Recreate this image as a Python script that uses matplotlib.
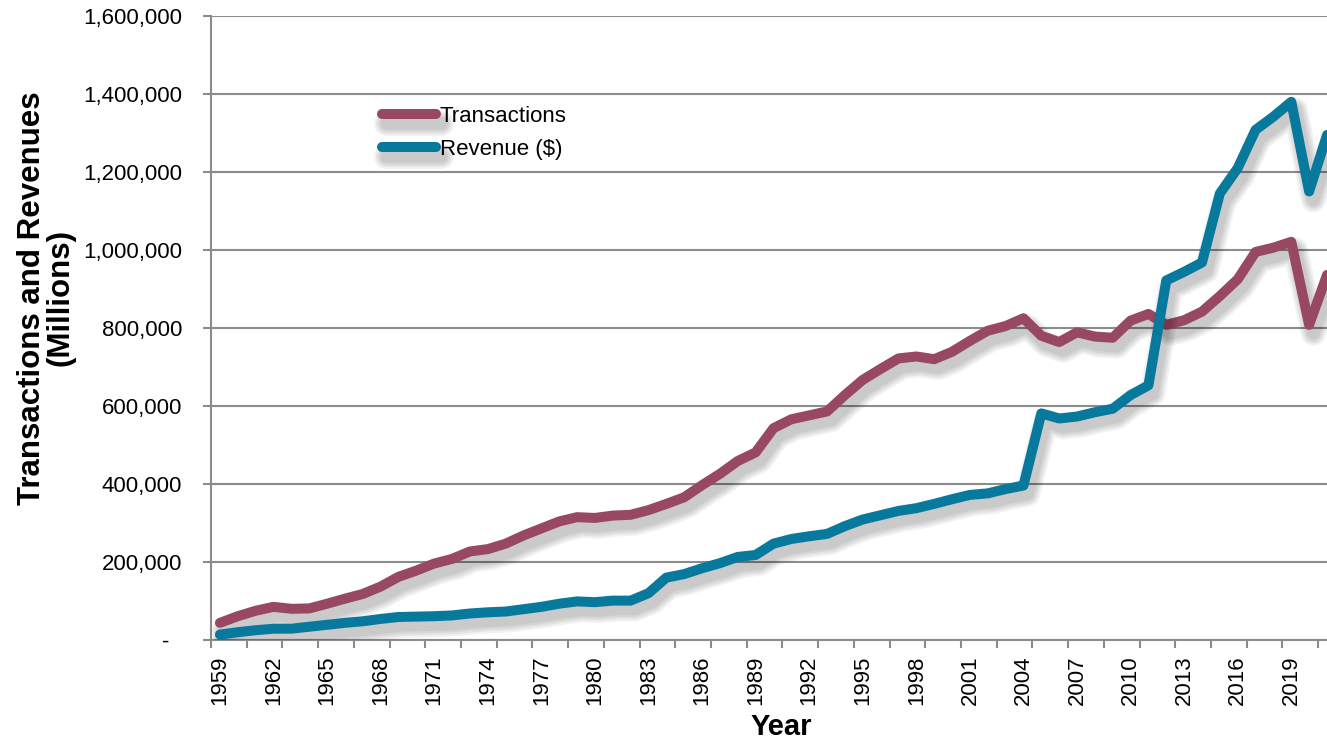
import matplotlib
matplotlib.use("Agg")
import matplotlib.pyplot as plt
from matplotlib import patheffects as pe
from matplotlib.ticker import FuncFormatter, MultipleLocator, FixedLocator

plt.rcParams['font.family'] = ['Liberation Sans', 'DejaVu Sans']

# dane
years = list(range(1959, 2022))
transactions = [
    44000, 61000, 75000, 85000, 80000, 81000, 93000, 106000, 118000, 137000,
    162000, 178000, 196000, 208000, 227000, 233000, 247000, 268000, 286000, 304000,
    315000, 313000, 319000, 321000, 333000, 349000, 366000, 397000, 426000, 459000,
    481000, 543000, 566000, 576000, 586000, 628000, 667000, 695000, 722000, 727000,
    720000, 739000, 767000, 793000, 805000, 825000, 780000, 764000, 789000, 778000,
    775000, 819000, 836000, 808000, 820000, 842000, 882000, 925000, 995000, 1006000,
    1021000, 808000, 936000,
]
revenue = [
    14000, 20000, 25000, 29000, 29000, 34000, 39000, 44000, 48000, 54000,
    59000, 60000, 61000, 63000, 68000, 71000, 73000, 79000, 85000, 93000,
    99000, 97000, 101000, 101000, 120000, 160000, 169000, 184000, 197000, 213000,
    218000, 247000, 259000, 266000, 272000, 292000, 309000, 320000, 331000, 338000,
    349000, 361000, 372000, 376000, 387000, 396000, 581000, 568000, 573000, 584000,
    593000, 628000, 653000, 922000, 944000, 968000, 1145000, 1210000, 1308000, 1342000,
    1380000, 1150000, 1295000,
]
series_names = ["Transactions", "Revenue ($)"]
colors = ["#984861", "#07799D"]
label_years = list(range(1959, 2022, 3))

W, H = 1327, 744
fig = plt.figure(figsize=(W / 100, H / 100), dpi=100)
ax = fig.add_axes([211 / W, 1 - 640 / H, 1 - 211 / W, (640 - 16) / H])

# miekki cien pod liniami
cien = [pe.SimpleLineShadow(offset=(3, -6), shadow_color='k', alpha=0.055, linewidth=lw)
        for lw in (18, 15, 12, 9)] + [pe.Normal()]

for vals, name, c in zip([transactions, revenue], series_names, colors):
    ax.plot(years, vals, color=c, lw=7.2, label=name, solid_joinstyle='round',
            solid_capstyle='round', path_effects=cien, zorder=3)

ax.set_xlim(1958.5, 2021.0)
ax.set_ylim(0, 1600000)

ax.yaxis.set_major_locator(MultipleLocator(200000))
ax.yaxis.set_major_formatter(FuncFormatter(lambda v, p: '-  ' if v == 0 else f'{v:,.0f}'))
ax.grid(axis='y', color='#8c8c8c', lw=1.5)
ax.set_axisbelow(True)

ax.xaxis.set_major_locator(FixedLocator(label_years))
ax.xaxis.set_minor_locator(FixedLocator([y + 0.5 for y in range(1958, 2022, 2)]))
ax.tick_params(axis='x', which='major', length=0, pad=11, labelsize=16, labelrotation=90)
ax.tick_params(axis='x', which='minor', length=5.8, width=1.5, color='#8c8c8c')
ax.tick_params(axis='y', length=5.8, width=1.5, color='#8c8c8c', pad=15, labelsize=16)

for s in ['top', 'right']:
    ax.spines[s].set_visible(False)
for s in ['left', 'bottom']:
    ax.spines[s].set_color('#8c8c8c')
    ax.spines[s].set_linewidth(1.5)

fig.text(46 / W, 1 - 298 / H, "Transactions and Revenues\n(Millions)", rotation=90,
         ha='center', va='center', fontsize=22.5, fontweight='bold', linespacing=0.92)
fig.text(781 / W, 1 - 727 / H, "Year", ha='center', va='center',
         fontsize=21, fontweight='bold')

leg = ax.legend(loc='upper left', bbox_to_anchor=(382 / W, 1 - 106 / H),
                bbox_transform=fig.transFigure, frameon=False, fontsize=16,
                handlelength=2.45, handletextpad=0.15, labelspacing=0.55, borderpad=0,
                borderaxespad=0)
for ln in leg.get_lines():
    ln.set_linewidth(7.2)
    ln.set_solid_capstyle('round')

fig.savefig("out.png", dpi=100)
